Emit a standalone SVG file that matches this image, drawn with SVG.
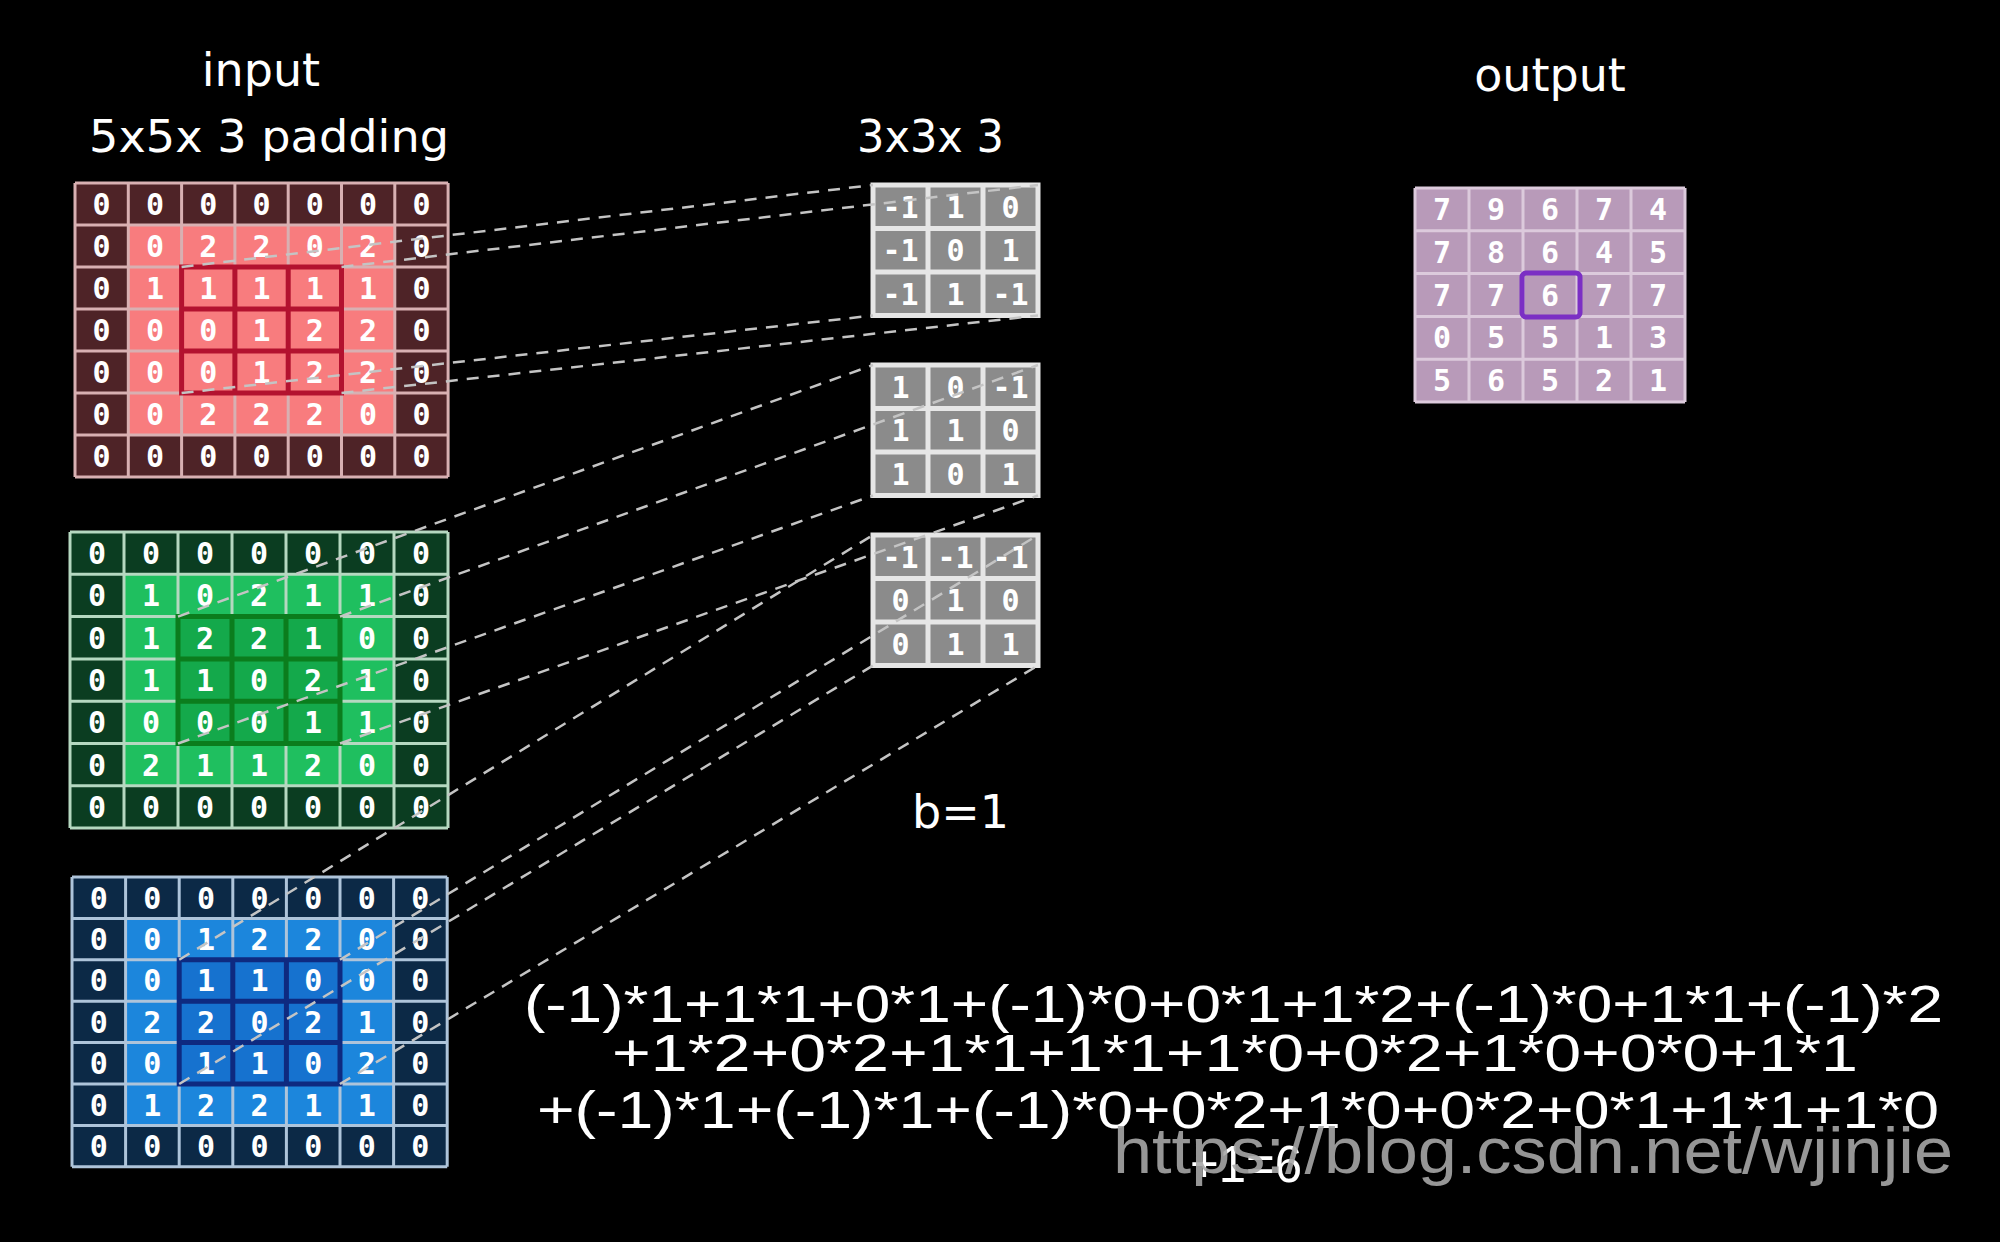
<svg xmlns="http://www.w3.org/2000/svg" width="2000" height="1242" viewBox="0 0 2000 1242">
<style>
.lbl{font-family:"DejaVu Sans","Liberation Sans",sans-serif;fill:#fff;}
.t{font-family:"DejaVu Sans Mono","Liberation Mono",monospace;font-weight:bold;font-size:30px;fill:#fff;text-anchor:middle;}
.eq{font-family:"Liberation Sans",Arial,sans-serif;font-size:52px;fill:#fff;}
.gl{fill:none;stroke-width:3;}
.rf{stroke-width:5;}
.dash{fill:none;stroke:#c4c4c4;stroke-width:2.5;stroke-dasharray:12 9;}
</style>
<rect x="0" y="0" width="2000" height="1242" fill="#000"/>

<g id="labels">
<text class="lbl" x="261" y="86" font-size="46" text-anchor="middle">input</text>
<text class="lbl" x="89" y="152" font-size="44" textLength="360" lengthAdjust="spacingAndGlyphs">5x5x 3 padding</text>
<text class="lbl" x="857" y="152" font-size="44" textLength="147" lengthAdjust="spacingAndGlyphs">3x3x 3</text>
<text class="lbl" x="1550" y="91" font-size="46" text-anchor="middle">output</text>
</g>

<g id="input-red" transform="translate(75,183)">
<rect x="0" y="0" width="373.1" height="294" fill="#4e2327"/>
<rect x="53.3" y="42" width="266.5" height="210" fill="#f87c7e"/>
<path class="gl" stroke="#d8b0b2" d="M0 0V294M53.3 0V294M106.6 0V294M159.9 0V294M213.2 0V294M266.5 0V294M319.8 0V294M373.1 0V294M0 0H373.1M0 42H373.1M0 84H373.1M0 126H373.1M0 168H373.1M0 210H373.1M0 252H373.1M0 294H373.1"/>
<rect x="106.6" y="84" width="159.9" height="126" fill="#f87c7e"/>
<path class="rf" fill="none" stroke="#b3122f" d="M106.6 84H266.5V210H106.6ZM159.9 84V210M213.2 84V210M106.6 126H266.5M106.6 168H266.5"/>
<text class="t" x="26.65" y="32">0</text><text class="t" x="79.95" y="32">0</text><text class="t" x="133.25" y="32">0</text><text class="t" x="186.55" y="32">0</text><text class="t" x="239.85" y="32">0</text><text class="t" x="293.15" y="32">0</text><text class="t" x="346.45" y="32">0</text>
<text class="t" x="26.65" y="74">0</text><text class="t" x="79.95" y="74">0</text><text class="t" x="133.25" y="74">2</text><text class="t" x="186.55" y="74">2</text><text class="t" x="239.85" y="74">0</text><text class="t" x="293.15" y="74">2</text><text class="t" x="346.45" y="74">0</text>
<text class="t" x="26.65" y="116">0</text><text class="t" x="79.95" y="116">1</text><text class="t" x="133.25" y="116">1</text><text class="t" x="186.55" y="116">1</text><text class="t" x="239.85" y="116">1</text><text class="t" x="293.15" y="116">1</text><text class="t" x="346.45" y="116">0</text>
<text class="t" x="26.65" y="158">0</text><text class="t" x="79.95" y="158">0</text><text class="t" x="133.25" y="158">0</text><text class="t" x="186.55" y="158">1</text><text class="t" x="239.85" y="158">2</text><text class="t" x="293.15" y="158">2</text><text class="t" x="346.45" y="158">0</text>
<text class="t" x="26.65" y="200">0</text><text class="t" x="79.95" y="200">0</text><text class="t" x="133.25" y="200">0</text><text class="t" x="186.55" y="200">1</text><text class="t" x="239.85" y="200">2</text><text class="t" x="293.15" y="200">2</text><text class="t" x="346.45" y="200">0</text>
<text class="t" x="26.65" y="242">0</text><text class="t" x="79.95" y="242">0</text><text class="t" x="133.25" y="242">2</text><text class="t" x="186.55" y="242">2</text><text class="t" x="239.85" y="242">2</text><text class="t" x="293.15" y="242">0</text><text class="t" x="346.45" y="242">0</text>
<text class="t" x="26.65" y="284">0</text><text class="t" x="79.95" y="284">0</text><text class="t" x="133.25" y="284">0</text><text class="t" x="186.55" y="284">0</text><text class="t" x="239.85" y="284">0</text><text class="t" x="293.15" y="284">0</text><text class="t" x="346.45" y="284">0</text>
</g>

<g id="input-green" transform="translate(70,532)">
<rect x="0" y="0" width="378" height="296.1" fill="#0b3d21"/>
<rect x="54" y="42.3" width="270" height="211.5" fill="#1fbf5f"/>
<path class="gl" stroke="#b5d8c0" d="M0 0V296.1M54 0V296.1M108 0V296.1M162 0V296.1M216 0V296.1M270 0V296.1M324 0V296.1M378 0V296.1M0 0H378M0 42.3H378M0 84.6H378M0 126.9H378M0 169.2H378M0 211.5H378M0 253.8H378M0 296.1H378"/>
<rect x="108" y="84.6" width="162" height="126.9" fill="#14a94b"/>
<path class="rf" fill="none" stroke="#0b7d1d" d="M108 84.6H270V211.5H108ZM162 84.6V211.5M216 84.6V211.5M108 126.9H270M108 169.2H270"/>
<text class="t" x="27" y="32">0</text><text class="t" x="81" y="32">0</text><text class="t" x="135" y="32">0</text><text class="t" x="189" y="32">0</text><text class="t" x="243" y="32">0</text><text class="t" x="297" y="32">0</text><text class="t" x="351" y="32">0</text>
<text class="t" x="27" y="74.3">0</text><text class="t" x="81" y="74.3">1</text><text class="t" x="135" y="74.3">0</text><text class="t" x="189" y="74.3">2</text><text class="t" x="243" y="74.3">1</text><text class="t" x="297" y="74.3">1</text><text class="t" x="351" y="74.3">0</text>
<text class="t" x="27" y="116.6">0</text><text class="t" x="81" y="116.6">1</text><text class="t" x="135" y="116.6">2</text><text class="t" x="189" y="116.6">2</text><text class="t" x="243" y="116.6">1</text><text class="t" x="297" y="116.6">0</text><text class="t" x="351" y="116.6">0</text>
<text class="t" x="27" y="158.9">0</text><text class="t" x="81" y="158.9">1</text><text class="t" x="135" y="158.9">1</text><text class="t" x="189" y="158.9">0</text><text class="t" x="243" y="158.9">2</text><text class="t" x="297" y="158.9">1</text><text class="t" x="351" y="158.9">0</text>
<text class="t" x="27" y="201.2">0</text><text class="t" x="81" y="201.2">0</text><text class="t" x="135" y="201.2">0</text><text class="t" x="189" y="201.2">0</text><text class="t" x="243" y="201.2">1</text><text class="t" x="297" y="201.2">1</text><text class="t" x="351" y="201.2">0</text>
<text class="t" x="27" y="243.5">0</text><text class="t" x="81" y="243.5">2</text><text class="t" x="135" y="243.5">1</text><text class="t" x="189" y="243.5">1</text><text class="t" x="243" y="243.5">2</text><text class="t" x="297" y="243.5">0</text><text class="t" x="351" y="243.5">0</text>
<text class="t" x="27" y="285.8">0</text><text class="t" x="81" y="285.8">0</text><text class="t" x="135" y="285.8">0</text><text class="t" x="189" y="285.8">0</text><text class="t" x="243" y="285.8">0</text><text class="t" x="297" y="285.8">0</text><text class="t" x="351" y="285.8">0</text>
</g>

<g id="input-blue" transform="translate(72,877)">
<rect x="0" y="0" width="375.2" height="289.8" fill="#0c2946"/>
<rect x="53.6" y="41.4" width="268" height="207" fill="#1c86dc"/>
<path class="gl" stroke="#aec4da" d="M0 0V289.8M53.6 0V289.8M107.2 0V289.8M160.8 0V289.8M214.4 0V289.8M268 0V289.8M321.6 0V289.8M375.2 0V289.8M0 0H375.2M0 41.4H375.2M0 82.8H375.2M0 124.2H375.2M0 165.6H375.2M0 207H375.2M0 248.4H375.2M0 289.8H375.2"/>
<rect x="107.2" y="82.8" width="160.8" height="124.2" fill="#1672cf"/>
<path class="rf" fill="none" stroke="#0e2a80" d="M107.2 82.8H268V207H107.2ZM160.8 82.8V207M214.4 82.8V207M107.2 124.2H268M107.2 165.6H268"/>
<text class="t" x="26.8" y="31.5">0</text><text class="t" x="80.4" y="31.5">0</text><text class="t" x="134" y="31.5">0</text><text class="t" x="187.6" y="31.5">0</text><text class="t" x="241.2" y="31.5">0</text><text class="t" x="294.8" y="31.5">0</text><text class="t" x="348.4" y="31.5">0</text>
<text class="t" x="26.8" y="72.9">0</text><text class="t" x="80.4" y="72.9">0</text><text class="t" x="134" y="72.9">1</text><text class="t" x="187.6" y="72.9">2</text><text class="t" x="241.2" y="72.9">2</text><text class="t" x="294.8" y="72.9">0</text><text class="t" x="348.4" y="72.9">0</text>
<text class="t" x="26.8" y="114.3">0</text><text class="t" x="80.4" y="114.3">0</text><text class="t" x="134" y="114.3">1</text><text class="t" x="187.6" y="114.3">1</text><text class="t" x="241.2" y="114.3">0</text><text class="t" x="294.8" y="114.3">0</text><text class="t" x="348.4" y="114.3">0</text>
<text class="t" x="26.8" y="155.7">0</text><text class="t" x="80.4" y="155.7">2</text><text class="t" x="134" y="155.7">2</text><text class="t" x="187.6" y="155.7">0</text><text class="t" x="241.2" y="155.7">2</text><text class="t" x="294.8" y="155.7">1</text><text class="t" x="348.4" y="155.7">0</text>
<text class="t" x="26.8" y="197.1">0</text><text class="t" x="80.4" y="197.1">0</text><text class="t" x="134" y="197.1">1</text><text class="t" x="187.6" y="197.1">1</text><text class="t" x="241.2" y="197.1">0</text><text class="t" x="294.8" y="197.1">2</text><text class="t" x="348.4" y="197.1">0</text>
<text class="t" x="26.8" y="238.5">0</text><text class="t" x="80.4" y="238.5">1</text><text class="t" x="134" y="238.5">2</text><text class="t" x="187.6" y="238.5">2</text><text class="t" x="241.2" y="238.5">1</text><text class="t" x="294.8" y="238.5">1</text><text class="t" x="348.4" y="238.5">0</text>
<text class="t" x="26.8" y="279.9">0</text><text class="t" x="80.4" y="279.9">0</text><text class="t" x="134" y="279.9">0</text><text class="t" x="187.6" y="279.9">0</text><text class="t" x="241.2" y="279.9">0</text><text class="t" x="294.8" y="279.9">0</text><text class="t" x="348.4" y="279.9">0</text>
</g>

<defs>
<g id="kgrid">
<rect x="0" y="0" width="165" height="130.5" fill="#8b8b8b"/>
<path fill="none" stroke="#e6e6e6" stroke-width="5" d="M0 0H165V130.5H0ZM55 0V130.5M110 0V130.5M0 43.5H165M0 87H165"/>
</g>
</defs>

<g id="kernel-1" transform="translate(873,185)">
<use href="#kgrid"/>
<text class="t" x="27.5" y="32.5">-1</text><text class="t" x="82.5" y="32.5">1</text><text class="t" x="137.5" y="32.5">0</text>
<text class="t" x="27.5" y="76">-1</text><text class="t" x="82.5" y="76">0</text><text class="t" x="137.5" y="76">1</text>
<text class="t" x="27.5" y="119.5">-1</text><text class="t" x="82.5" y="119.5">1</text><text class="t" x="137.5" y="119.5">-1</text>
</g>
<g id="kernel-2" transform="translate(873,365)">
<use href="#kgrid"/>
<text class="t" x="27.5" y="32.5">1</text><text class="t" x="82.5" y="32.5">0</text><text class="t" x="137.5" y="32.5">-1</text>
<text class="t" x="27.5" y="76">1</text><text class="t" x="82.5" y="76">1</text><text class="t" x="137.5" y="76">0</text>
<text class="t" x="27.5" y="119.5">1</text><text class="t" x="82.5" y="119.5">0</text><text class="t" x="137.5" y="119.5">1</text>
</g>
<g id="kernel-3" transform="translate(873,535)">
<use href="#kgrid"/>
<text class="t" x="27.5" y="32.5">-1</text><text class="t" x="82.5" y="32.5">-1</text><text class="t" x="137.5" y="32.5">-1</text>
<text class="t" x="27.5" y="76">0</text><text class="t" x="82.5" y="76">1</text><text class="t" x="137.5" y="76">0</text>
<text class="t" x="27.5" y="119.5">0</text><text class="t" x="82.5" y="119.5">1</text><text class="t" x="137.5" y="119.5">1</text>
</g>

<g id="output" transform="translate(1415,188)">
<rect x="0" y="0" width="270" height="214" fill="#b89ab9"/>
<path class="gl" stroke="#dccadc" d="M0 0V214M54 0V214M108 0V214M162 0V214M216 0V214M270 0V214M0 0H270M0 42.8H270M0 85.6H270M0 128.4H270M0 171.2H270M0 214H270"/>
<rect x="107" y="85" width="58" height="44" rx="4" fill="none" stroke="#7b2fc4" stroke-width="5"/>
<text class="t" x="27" y="32">7</text><text class="t" x="81" y="32">9</text><text class="t" x="135" y="32">6</text><text class="t" x="189" y="32">7</text><text class="t" x="243" y="32">4</text>
<text class="t" x="27" y="74.8">7</text><text class="t" x="81" y="74.8">8</text><text class="t" x="135" y="74.8">6</text><text class="t" x="189" y="74.8">4</text><text class="t" x="243" y="74.8">5</text>
<text class="t" x="27" y="117.6">7</text><text class="t" x="81" y="117.6">7</text><text class="t" x="135" y="117.6">6</text><text class="t" x="189" y="117.6">7</text><text class="t" x="243" y="117.6">7</text>
<text class="t" x="27" y="160.4">0</text><text class="t" x="81" y="160.4">5</text><text class="t" x="135" y="160.4">5</text><text class="t" x="189" y="160.4">1</text><text class="t" x="243" y="160.4">3</text>
<text class="t" x="27" y="203.2">5</text><text class="t" x="81" y="203.2">6</text><text class="t" x="135" y="203.2">5</text><text class="t" x="189" y="203.2">2</text><text class="t" x="243" y="203.2">1</text>
</g>

<g id="connectors">
<path class="dash" d="M181.6 267L873 185M341.5 267L1038 185M181.6 393L873 315.5M341.5 393L1038 315.5"/>
<path class="dash" d="M178 616.6L873 365M340 616.6L1038 365M178 743.5L873 495.5M340 743.5L1038 495.5"/>
<path class="dash" d="M179.2 959.8L873 535M339.9 959.8L1038 535M179.2 1084L873 665.5M339.9 1084L1038 665.5"/>
</g>

<g id="bias">
<text class="lbl" x="912" y="828" font-size="46">b=1</text>
</g>

<g id="formula">
<text class="eq" x="524" y="1022" textLength="1419" lengthAdjust="spacingAndGlyphs">(-1)*1+1*1+0*1+(-1)*0+0*1+1*2+(-1)*0+1*1+(-1)*2</text>
<text class="eq" x="612" y="1071" textLength="1246" lengthAdjust="spacingAndGlyphs">+1*2+0*2+1*1+1*1+1*0+0*2+1*0+0*0+1*1</text>
<text class="eq" x="537" y="1128" textLength="1402" lengthAdjust="spacingAndGlyphs">+(-1)*1+(-1)*1+(-1)*0+0*2+1*0+0*2+0*1+1*1+1*0</text>
<text class="eq" x="1190" y="1182" textLength="112" lengthAdjust="spacingAndGlyphs">+1=6</text>
</g>

<text x="1113" y="1173" font-family="Liberation Sans, Arial, sans-serif" font-size="64" fill="#a6a6a6" fill-opacity="0.9" textLength="840" lengthAdjust="spacingAndGlyphs">https://blog.csdn.net/wjinjie</text>
</svg>
